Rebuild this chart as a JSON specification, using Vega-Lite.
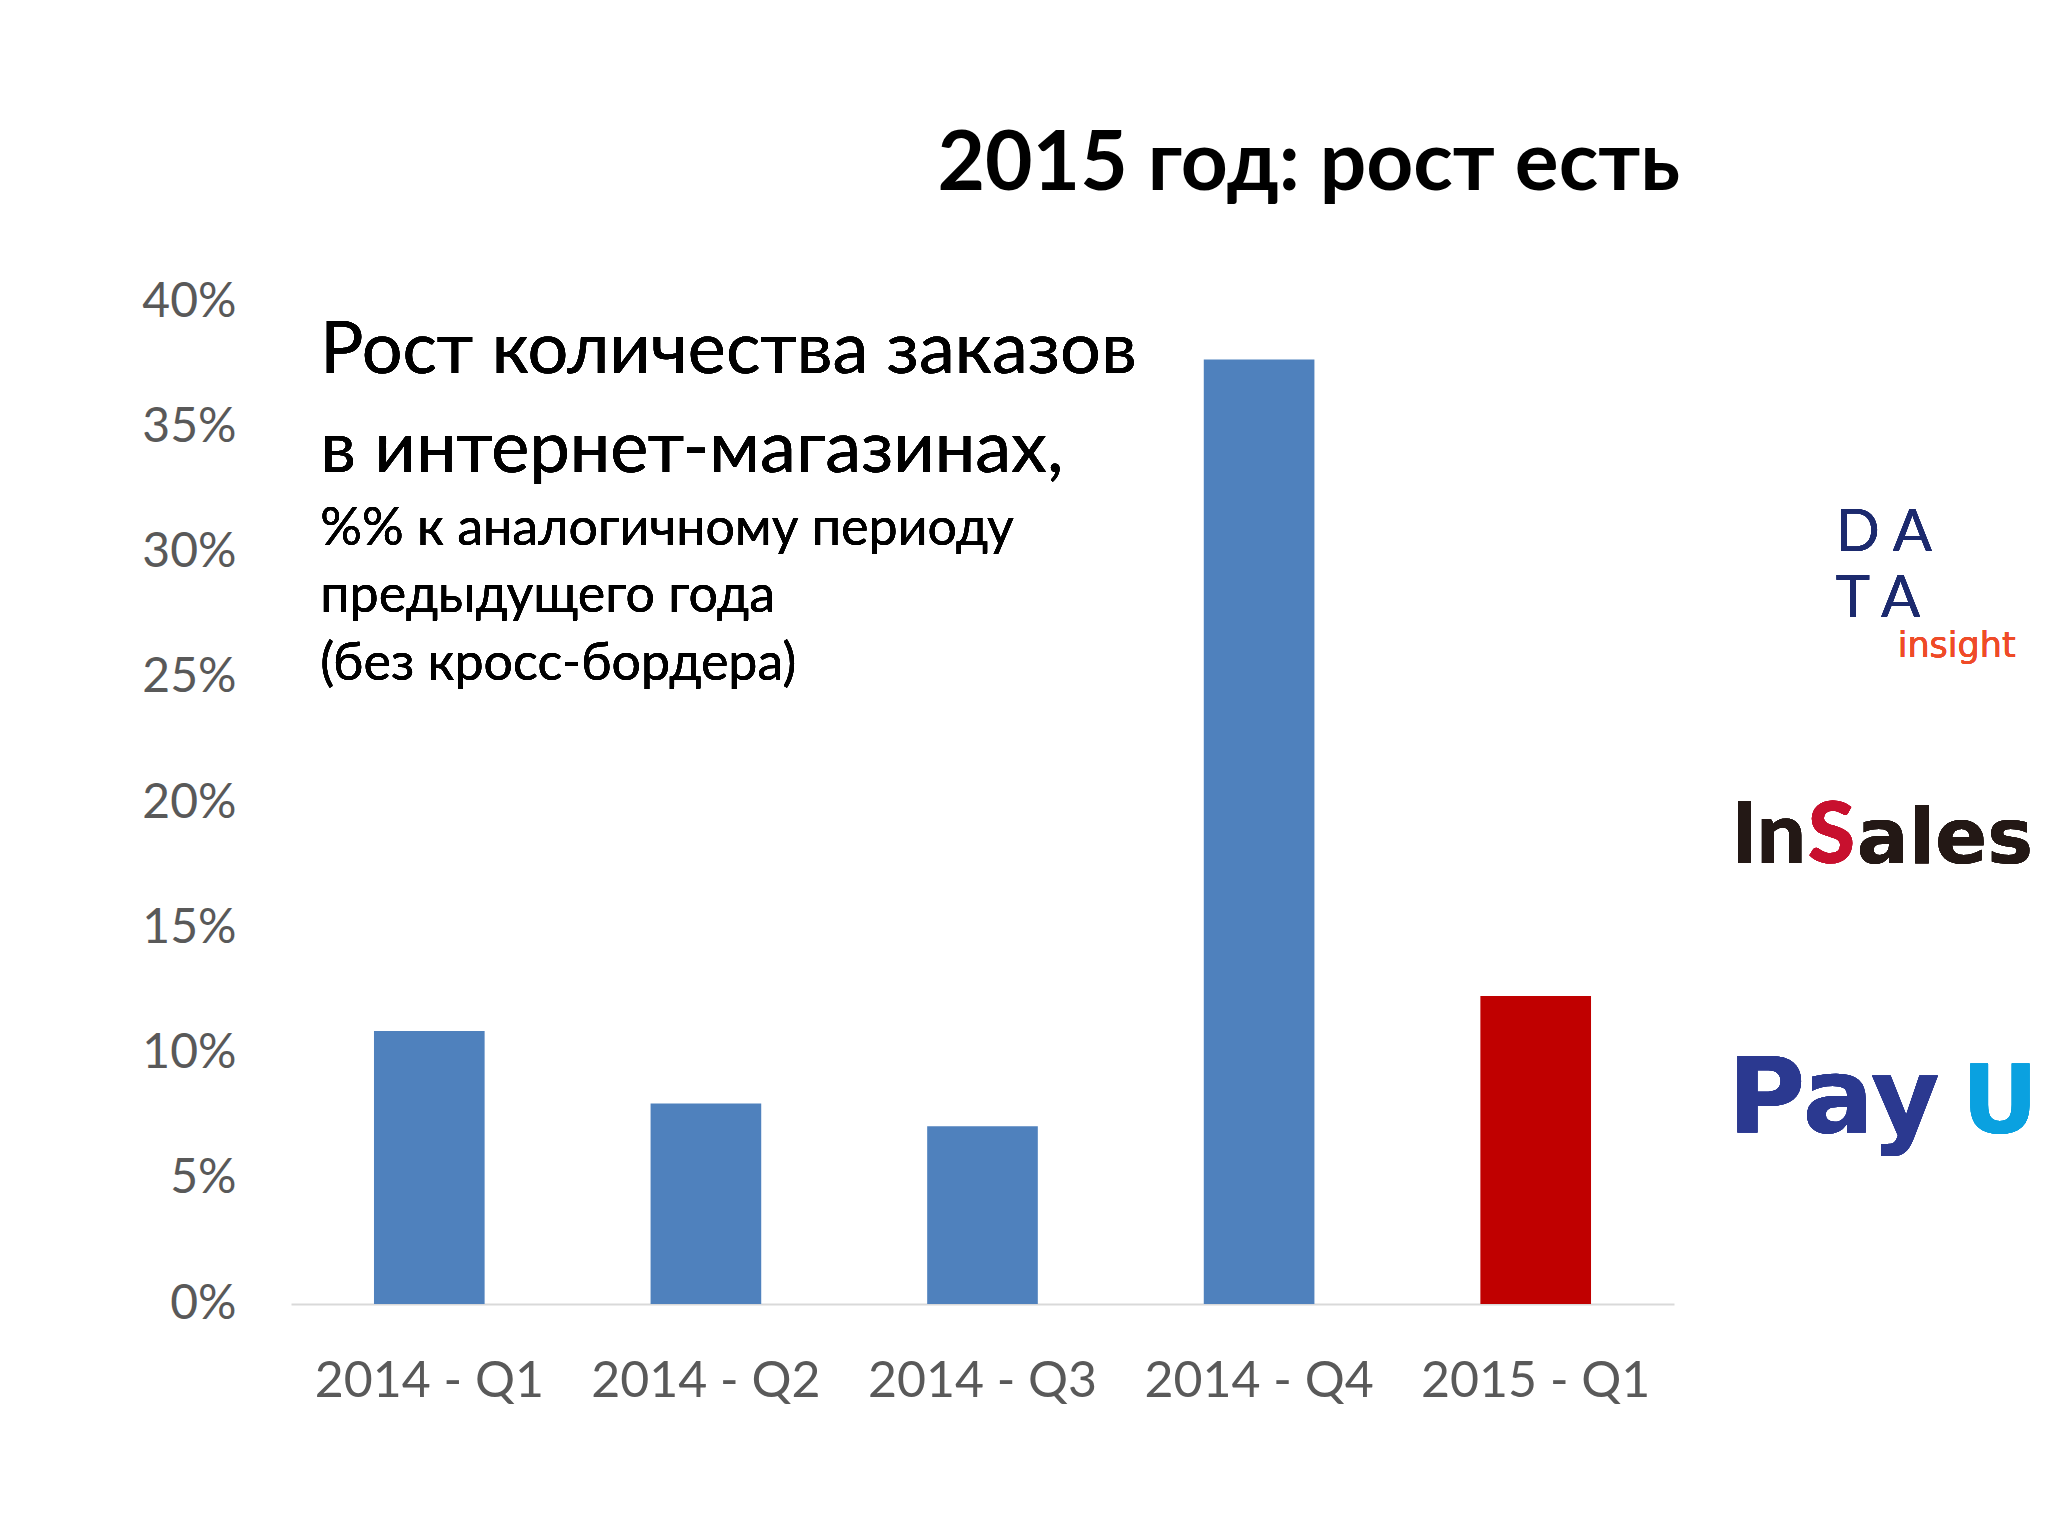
{
  "$schema": "https://vega.github.io/schema/vega-lite/v6.json",
  "autosize": {"type": "none"},
  "padding": {"left": 291, "top": 302, "right": 374, "bottom": 232},
  "width": 1383,
  "height": 1002,
  "background": "#ffffff",
  "config": {"view": {"stroke": null}, "font": "Lato"},
  "title": {
    "text": "2015 год: рост есть",
    "anchor": "end",
    "frame": "group",
    "font": "Lato",
    "fontSize": 82,
    "fontWeight": "bold",
    "color": "#000000",
    "baseline": "alphabetic",
    "offset": 6,
    "dx": 6
  },
  "data": {
    "values": [
      {"quarter": "2014 - Q1", "year": "2014", "growth": 0.109},
      {"quarter": "2014 - Q2", "year": "2014", "growth": 0.080},
      {"quarter": "2014 - Q3", "year": "2014", "growth": 0.071},
      {"quarter": "2014 - Q4", "year": "2014", "growth": 0.377},
      {"quarter": "2015 - Q1", "year": "2015", "growth": 0.123}
    ]
  },
  "layer": [
    {
      "mark": {"type": "bar"},
      "encoding": {
        "x": {
          "field": "quarter",
          "type": "nominal",
          "sort": null,
          "scale": {"domain": ["2014 - Q1", "2014 - Q2", "2014 - Q3", "2014 - Q4", "2015 - Q1"], "paddingInner": 0.6, "paddingOuter": 0.3},
          "axis": {
            "title": null,
            "domain": true,
            "domainColor": "#d9d9d9",
            "domainWidth": 2,
            "ticks": false,
            "tickSize": 0,
            "grid": false,
            "labelAngle": 0,
            "labelLimit": 0,
            "labelFont": "Lato",
            "labelFontSize": 50,
            "labelColor": "#595959",
            "labelPadding": 52,
            "labelBaseline": "top"
          }
        },
        "y": {
          "field": "growth",
          "type": "quantitative",
          "scale": {"domain": [0, 0.4], "nice": false, "zero": true},
          "axis": {
            "title": null,
            "format": ".0%",
            "values": [0, 0.05, 0.1, 0.15, 0.2, 0.25, 0.3, 0.35, 0.4],
            "domain": false,
            "ticks": false,
            "tickSize": 0,
            "grid": false,
            "labelFont": "Lato",
            "labelFontSize": 48,
            "labelColor": "#595959",
            "labelPadding": 55,
            "labelBaseline": "middle"
          }
        },
        "color": {
          "field": "year",
          "type": "nominal",
          "scale": {"domain": ["2014", "2015"], "range": ["#4F81BD", "#C00000"]},
          "legend": null
        }
      }
    },
    {
      "mark": {"type": "text", "text": ["Рост количества заказов", "в интернет-магазинах,"], "align": "left", "baseline": "alphabetic", "font": "Lato", "fontSize": 72, "lineHeight": 99, "color": "#000000", "dx": -109},
      "encoding": {"x": {"datum": "2014 - Q1"}, "y": {"datum": 0.3717}}
    },
    {
      "mark": {"type": "text", "text": ["%% к аналогичному периоду", "предыдущего года", "(без кросс-бордера)"], "align": "left", "baseline": "alphabetic", "font": "Lato", "fontSize": 52, "lineHeight": 67.5, "color": "#000000", "dx": -109},
      "encoding": {"x": {"datum": "2014 - Q1"}, "y": {"datum": 0.303}}
    },
    {
      "mark": {"type": "text", "text": "D A", "align": "left", "baseline": "alphabetic", "font": "Lato", "fontWeight": 400, "fontSize": 58, "color": "#1C2A6E", "dx": 300},
      "encoding": {"x": {"datum": "2015 - Q1"}, "y": {"datum": 0.3006}}
    },
    {
      "mark": {"type": "text", "text": "T A", "align": "left", "baseline": "alphabetic", "font": "Lato", "fontWeight": 400, "fontSize": 58, "color": "#1C2A6E", "dx": 300},
      "encoding": {"x": {"datum": "2015 - Q1"}, "y": {"datum": 0.2742}}
    },
    {
      "mark": {"type": "text", "text": "insight", "align": "left", "baseline": "alphabetic", "font": "DejaVu Sans", "fontSize": 35, "color": "#EF4B28", "dx": 362},
      "encoding": {"x": {"datum": "2015 - Q1"}, "y": {"datum": 0.2583}}
    },
    {
      "mark": {"type": "text", "text": "In", "align": "right", "baseline": "alphabetic", "font": "Lato", "fontWeight": 900, "fontSize": 86, "color": "#231815", "dx": 270},
      "encoding": {"x": {"datum": "2015 - Q1"}, "y": {"datum": 0.176}}
    },
    {
      "mark": {"type": "text", "text": "S", "align": "left", "baseline": "alphabetic", "font": "Lato", "fontWeight": 900, "fontSize": 86, "color": "#C8102E", "dx": 272},
      "encoding": {"x": {"datum": "2015 - Q1"}, "y": {"datum": 0.176}}
    },
    {
      "mark": {"type": "text", "text": "ales", "align": "left", "baseline": "alphabetic", "font": "DejaVu Sans", "fontWeight": "bold", "fontSize": 77, "color": "#231815", "dx": 321},
      "encoding": {"x": {"datum": "2015 - Q1"}, "y": {"datum": 0.176}}
    },
    {
      "mark": {"type": "text", "text": "Pay", "align": "left", "baseline": "alphabetic", "font": "DejaVu Sans", "fontWeight": "bold", "fontSize": 106, "color": "#2B3990", "dx": 192},
      "encoding": {"x": {"datum": "2015 - Q1"}, "y": {"datum": 0.0683}}
    },
    {
      "mark": {"type": "text", "text": "U", "align": "left", "baseline": "alphabetic", "font": "DejaVu Sans", "fontWeight": "bold", "fontSize": 94, "color": "#0AA1E0", "dx": 426},
      "encoding": {"x": {"datum": "2015 - Q1"}, "y": {"datum": 0.0683}}
    }
  ]
}
